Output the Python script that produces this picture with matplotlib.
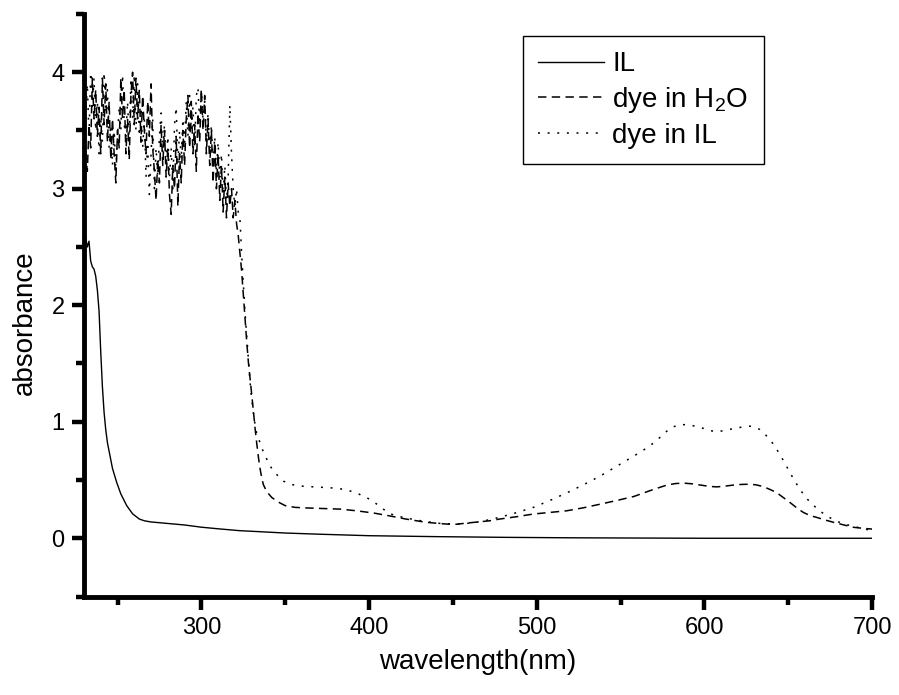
import numpy as np
import matplotlib
matplotlib.use("Agg")
import matplotlib.pyplot as plt

plt.rcParams['font.family'] = ['Liberation Sans', 'DejaVu Sans']
plt.rcParams['mathtext.fontset'] = 'custom'
plt.rcParams['mathtext.rm'] = 'Liberation Sans'
plt.rcParams['mathtext.it'] = 'Liberation Sans:italic'
plt.rcParams['mathtext.default'] = 'regular'

# ---------------- data ----------------
il_wl = [230, 231, 232, 233, 234, 235, 236, 237, 238, 239, 240, 241, 242, 243, 244,
         245.5, 247, 249.5, 252, 255.5, 259, 263, 266, 270, 280, 290, 300, 311, 323,
         330, 350, 370, 400, 440, 480, 520, 560, 600, 700]
il_abs = [2.5, 2.58, 2.5, 2.55, 2.38, 2.33, 2.31, 2.25, 2.13, 1.95, 1.6, 1.3, 1.08, 0.93, 0.82,
          0.71, 0.6, 0.48, 0.38, 0.28, 0.21, 0.165, 0.15, 0.14, 0.127, 0.114, 0.095, 0.08, 0.065,
          0.06, 0.045, 0.035, 0.022, 0.014, 0.008, 0.004, 0.002, 0.0, 0.0]

noisy_wl = list(range(230, 325))

h2o_noisy = [3.05, 3.3, 3.15, 3.55, 3.35, 3.95, 3.6, 3.85, 3.45, 3.7,
             3.3, 3.95, 3.55, 3.9, 3.4, 3.75, 3.25, 3.6, 3.3, 3.05,
             3.5, 3.35, 3.95, 3.6, 3.85, 3.3, 3.6, 3.25, 3.8, 4.0,
             3.55, 3.95, 3.6, 3.85, 3.4, 3.8, 3.5, 3.3, 3.75, 3.45,
             3.9, 3.35, 3.15, 2.9, 3.25, 3.05, 3.55, 3.2, 3.5, 3.1,
             3.35, 2.95, 2.78, 3.2, 3.0, 3.45, 2.85, 3.3, 3.05, 3.5,
             3.2, 3.6, 3.8, 3.35, 3.75, 3.3, 3.55, 3.15, 3.65, 3.4,
             3.85, 3.5, 3.8, 3.3, 3.6, 3.2, 3.5, 3.05, 3.4, 3.0,
             3.3, 2.9, 3.2, 2.8, 3.1, 2.75, 3.05, 2.85, 3.0, 2.75,
             2.9, 2.7, 2.6, 2.45, 2.3]
h2o_tail_wl = [325, 326, 327, 328, 329, 330, 331, 332, 333, 334, 335, 336, 337, 339, 342,
               346, 350, 356, 363, 373, 383, 393, 403, 413, 422, 434, 446, 452, 458, 465,
               472, 478, 488, 498, 508, 518, 528, 538, 548, 558, 564, 570, 578, 583, 588,
               593, 598, 603, 607.5, 612, 617, 622, 627, 631, 635, 639, 643, 647, 651, 655,
               659, 663, 667, 672, 677, 683, 689, 695, 700]
h2o_tail = [2.1, 1.9, 1.7, 1.52, 1.38, 1.24, 1.1, 0.95, 0.82, 0.7, 0.6, 0.52, 0.46, 0.4, 0.35,
            0.31, 0.28, 0.265, 0.26, 0.255, 0.25, 0.235, 0.216, 0.19, 0.165, 0.137, 0.122, 0.12, 0.13, 0.14,
            0.15, 0.165, 0.185, 0.208, 0.222, 0.236, 0.262, 0.293, 0.325, 0.359, 0.39, 0.421, 0.458, 0.47, 0.473,
            0.467, 0.456, 0.445, 0.441, 0.447, 0.456, 0.462, 0.464, 0.458, 0.444, 0.42, 0.393, 0.35, 0.308, 0.262,
            0.222, 0.195, 0.179, 0.157, 0.137, 0.115, 0.094, 0.085, 0.079]

dyeil_noisy = [3.2, 3.6, 3.9, 3.45, 4.0, 3.7, 3.95, 3.5, 3.75, 3.3,
               3.6, 3.4, 4.0, 3.65, 3.85, 3.35, 3.55, 3.2, 3.5, 3.15,
               3.45, 3.7, 3.5, 3.98, 3.55, 3.45, 3.75, 3.4, 3.95, 3.6,
               3.98, 3.5, 3.9, 3.45, 3.7, 3.35, 3.6, 3.1, 3.4, 2.95,
               3.3, 3.6, 3.0, 3.35, 3.1, 3.45, 3.65, 3.3, 3.55, 3.2,
               3.45, 3.1, 3.35, 3.0, 3.55, 3.7, 3.2, 3.5, 3.25, 3.6,
               3.4, 3.75, 3.45, 3.8, 3.5, 3.7, 3.35, 3.8, 3.87, 3.55,
               3.85, 3.6, 3.75, 3.4, 3.65, 3.35, 3.55, 3.2, 3.45, 3.15,
               3.4, 3.1, 3.3, 2.95, 3.2, 2.9, 3.1, 3.72, 3.3, 3.0,
               2.85, 3.0, 2.8, 2.75, 2.45]
dyeil_tail_wl = [325, 326, 327, 328, 329, 330, 331, 332, 333, 335, 337, 339, 341, 343, 346,
                 349, 353, 358, 363, 369, 375, 380, 385, 389, 393, 397, 401, 404, 407, 410,
                 413, 417, 421, 426, 431, 437, 442, 448, 454, 460, 466, 472, 478, 488, 498,
                 508, 518, 528, 538, 548, 558, 564, 570, 575, 580, 586, 592, 598, 603, 607.5,
                 612, 617, 622, 627, 630, 633, 636, 639, 642, 645, 648, 651, 654, 657, 660,
                 663, 668, 673, 680, 687, 694, 700]
dyeil_tail = [2.2, 1.95, 1.75, 1.55, 1.35, 1.2, 1.08, 0.98, 0.9, 0.82, 0.74, 0.68, 0.62, 0.58, 0.53,
              0.49, 0.464, 0.45, 0.444, 0.44, 0.435, 0.43, 0.42, 0.405, 0.385, 0.36, 0.33, 0.3, 0.265, 0.235,
              0.208, 0.19, 0.178, 0.163, 0.15, 0.137, 0.128, 0.124, 0.122, 0.13, 0.142, 0.16, 0.18, 0.22, 0.265,
              0.325, 0.39, 0.46, 0.535, 0.62, 0.706, 0.76, 0.82, 0.885, 0.95, 0.977, 0.97, 0.95, 0.925, 0.914,
              0.925, 0.94, 0.953, 0.962, 0.955, 0.934, 0.895, 0.85, 0.79, 0.72, 0.645, 0.564, 0.49, 0.42, 0.36,
              0.31, 0.245, 0.19, 0.14, 0.108, 0.085, 0.065]

h2o_wl = noisy_wl + h2o_tail_wl
h2o_abs = h2o_noisy + h2o_tail
dyeil_wl = noisy_wl + dyeil_tail_wl
dyeil_abs = dyeil_noisy + dyeil_tail

labels = ['IL', 'dye in H$_2$O', 'dye in IL']
x_major = [300, 400, 500, 600, 700]
x_minor = [250, 350, 450, 550, 650]
y_major = [0, 1, 2, 3, 4]
y_minor = [-0.5, 0.5, 1.5, 2.5, 3.5, 4.5]

# ---------------- figure ----------------
fig = plt.figure(figsize=(8.99, 6.95), dpi=100)
ax = fig.add_axes([0.0934, 0.1417, 0.8766, 0.8382])

ax.plot(il_wl, il_abs, color='black', lw=1.0, ls='-', label=labels[0])
ax.plot(h2o_wl, h2o_abs, color='black', lw=1.1, ls=(0, (5.5, 3.5)), label=labels[1])
ax.plot(dyeil_wl, dyeil_abs, color='black', lw=1.1, ls=(0, (1.3, 5.0)), label=labels[2])

ax.set_xlim(230, 700)
ax.set_ylim(-0.5, 4.5)

for s in ['top', 'right']:
    ax.spines[s].set_visible(False)
for s in ['left', 'bottom']:
    ax.spines[s].set_linewidth(3.5)
    ax.spines[s].set_capstyle('projecting')

ax.set_xticks(x_major)
ax.set_xticks(x_minor, minor=True)
ax.set_yticks(y_major)
ax.set_yticks(y_minor, minor=True)
ax.tick_params(which='major', direction='out', length=9, width=3.2, labelsize=17, pad=6)
ax.tick_params(which='minor', direction='out', length=5.5, width=3.2)
ax.tick_params(axis='y', which='major', pad=5)

ax.set_xlabel('wavelength(nm)', fontsize=20)
ax.set_ylabel('absorbance', fontsize=20)
ax.xaxis.set_label_coords(0.5, -0.1124)
ax.xaxis.label.set_va('center')
ax.yaxis.set_label_coords(-0.0749, 0.4709)
ax.yaxis.label.set_va('center')

leg = ax.legend(loc='upper left', bbox_to_anchor=(0.557, 0.962), borderaxespad=0,
                fontsize=20, frameon=True, fancybox=False, shadow=False,
                handlelength=2.37, handletextpad=0.3, labelspacing=0.28, borderpad=0.55)
leg.get_frame().set_edgecolor('black')
leg.get_frame().set_linewidth(1.0)
leg.get_frame().set_alpha(1)

fig.savefig('out.png', dpi=100)
